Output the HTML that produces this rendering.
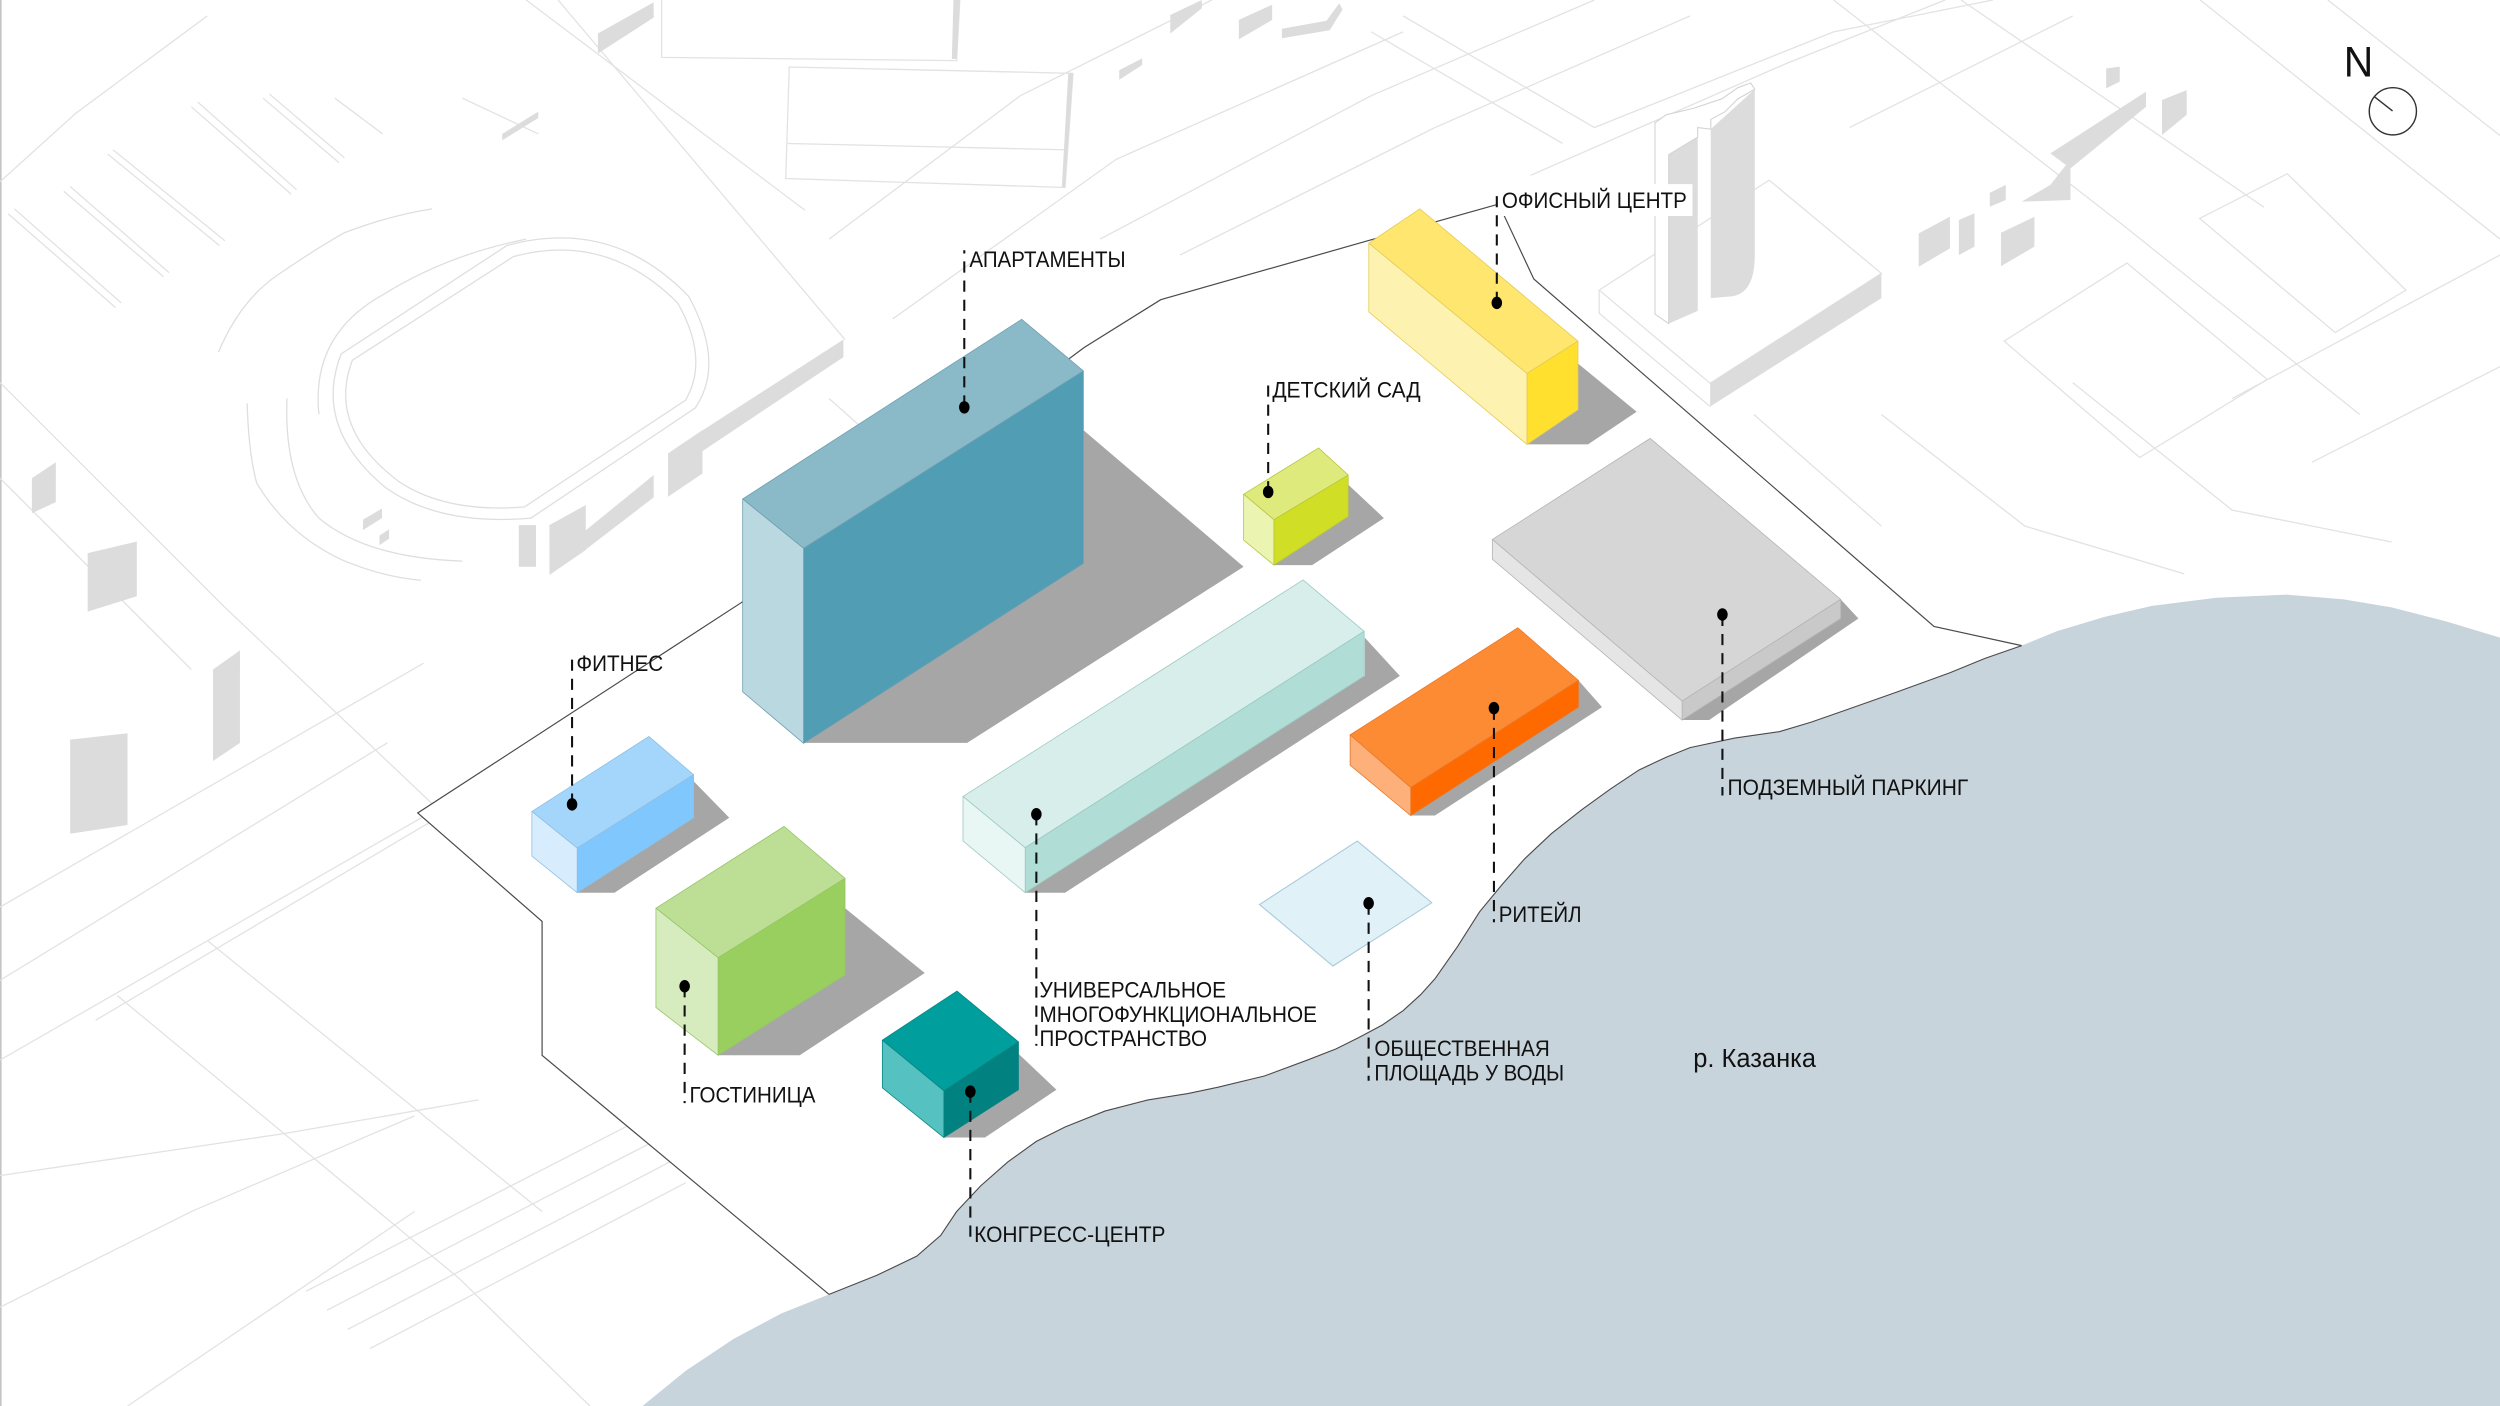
<!DOCTYPE html>
<html><head><meta charset="utf-8">
<style>
html,body{margin:0;padding:0;background:#fff;}
svg{display:block;}
text{font-family:"Liberation Sans",Arial,sans-serif;fill:#111;}
</style></head>
<body>
<svg width="2500" height="1406" viewBox="0 0 1568 882" preserveAspectRatio="none" xmlns="http://www.w3.org/2000/svg">
<rect x="0" y="0" width="1568" height="882" fill="#ffffff"/>
<line x1="0.5" y1="0" x2="0.5" y2="882" stroke="#c4c4c4" stroke-width="1"/>

<!-- faint background lines -->
<g fill="none" stroke="#e2e2e2" stroke-width="0.8">
  <path d="M5,134 L72.5,193 M9,131 L76,190"/>
  <path d="M40,120 L102.6,173.6 M44,117 L106,171"/>
  <path d="M67.5,96.6 L137.6,154 M71,94 L141,151"/>
  <path d="M120,67 L182.6,121.8 M124,64 L186,119"/>
  <path d="M165,61.6 L212.6,102 M169,59 L216,99"/>
  <path d="M210,61.6 L240,84"/>
  <path d="M290,61.6 L337.7,84"/>
  <path d="M350,0 L530,213"/>
  <path d="M330,0 L505,132"/>
  <path d="M0,114 L47.6,71 L130,10"/>
  <path d="M0,240 L140,380 L330,560"/>
  <path d="M0,300 L120,420"/>
  <path d="M0,569 L265.7,416"/>
  <path d="M0,615 L243,466"/>
  <path d="M0,665 L339,470"/>
  <path d="M60,640 L330,480"/>
  <path d="M73.6,624.6 L288,802 L370,882"/>
  <path d="M130,590 L340,760"/>
  <path d="M0,737.5 L179,711 L300,690"/>
  <path d="M192,810 L400,703 M205,822 L410,716 M218,834 L420,729 M232,846 L430,742"/>
  <path d="M0,820 L120,760 L260,700"/>
  <path d="M80,882 L260,760"/>
  <path d="M415,0 L415,36 L600,38 L602,0"/>
  <path d="M495,42 L673,46 L668,117.6 L492.8,112 Z M494,90 L670,94"/>
  <path d="M520,150 L640,60 L760,0"/>
  <path d="M560,200 L700,100 L880,20"/>
  <path d="M690,150 L860,60 L1000,0"/>
  <path d="M740,160 L900,80 L1060,10"/>
  <path d="M610,330 L520,250"/>
  <path d="M1003,182 L1109.6,113 L1180,171.5 L1072.6,240.4 Z M1003,182 L1003,196.5 L1072.6,255"/>
  <path d="M1257,214 L1334,165 L1422,238 L1342,287 Z"/>
  <path d="M1379.6,137 L1434.6,109 L1509,182 L1464.6,208.6 Z"/>
  <path d="M1150,0 L1330,140 L1480,260"/>
  <path d="M1230,0 L1420,130"/>
  <path d="M1380,0 L1568,150"/>
  <path d="M1460,0 L1568,85"/>
  <path d="M1300,240 L1400,320 L1500,340"/>
  <path d="M1180,260 L1270,330 L1370,360"/>
  <path d="M1100,260 L1180,330"/>
  <path d="M1400,250 L1568,160"/>
  <path d="M1450,290 L1568,230"/>
  <path d="M880,10 L1000,80 M860,20 L980,90"/>
  <path d="M1000,80 L1150,20 L1250,0"/>
  <path d="M960,110 L1120,40 L1220,0"/>
  <path d="M1160,80 L1300,10"/>
</g>

<!-- stadium -->
<g fill="none" stroke="#dedede" stroke-width="0.8">
  <path d="M221,226 L322,161 Q380,145 425,190 Q445,225 430,251 L329,318 Q280,322 250,302 Q205,268 221,226 Z"/>
  <path d="M214,222 L318,154 Q384,136 432,186 Q455,228 436,256 L333,325 Q276,330 242,306 Q196,268 214,222 Z"/>
  <path d="M137,221 Q150,190 172,174 Q195,158 216,146 Q245,135 271,131"/>
  <path d="M155,253 Q156,285 161,303 Q180,335 214,351 Q240,362 264,364"/>
  <path d="M180,250 Q178,300 200,325 Q230,350 290,352"/>
  <path d="M200,260 Q195,210 240,185 Q280,160 330,150"/>
</g>

<!-- gray background facades -->
<g fill="#dcdcdc">
  <polygon points="55,347 85.8,339.7 85.8,374 55,383.7"/>
  <polygon points="44,464 80,460 80,517.5 44,523"/>
  <polygon points="133.6,420 150.5,408 150.5,466 133.6,477.4"/>
  <polygon points="20,300 35,290 35,315 20,322"/>
  <polygon points="325.4,329.4 336.2,329.4 336.2,355.5 325.4,355.5"/>
  <polygon points="344.6,329.4 367.4,316.8 367.4,345 344.6,360.7"/>
  <polygon points="367,333 410,298 410,312 367,345"/>
  <polygon points="419,284.4 440.6,269.8 440.6,297 419,311.6"/>
  <polygon points="440.6,270 529,213 529,224 440.6,283"/>
  <polygon points="227.7,326 239.6,319 239.6,325 227.7,332.5"/>
  <polygon points="238,336 244,332 244,338 238,342"/>
  <polygon points="375,21 410,1.4 410,11 375,33.6"/>
  <polygon points="315,84 337.6,70 337.6,74 315,88"/>
  <polygon points="734,9.4 753.8,0 753.8,5.2 734,21"/>
  <polygon points="777,12.5 797.9,3 797.9,12.5 777,24.7"/>
  <polygon points="804,18 832,13 840,2 842,6 834,19 804,24"/>
  <polygon points="702,44 716.4,36.6 716.4,40.8 702,50"/>
  <polygon points="598,0 602,0 600,37 597,37"/>
  <polygon points="670,46 673,46 668,117.6 666,117"/>
  <!-- tower -->
  <polygon points="1046.6,97 1064.8,86 1064.8,195 1046.6,203"/>
  <path d="M1073,81 L1100.6,56 L1100.6,160 Q1100.6,185 1085,186 L1073,187 Z"/>
  <polygon points="1072.6,240.4 1180,171.5 1180,187 1072.6,255"/>
  <polygon points="1286,96.2 1346,57.5 1346,67 1298.6,105.6"/>
  <polygon points="1298.6,100 1298.6,125.5 1268,126.5 1286,116"/>
  <polygon points="1255,146 1276,136 1276,154.7 1255,167"/>
  <polygon points="1228.6,138 1238.4,133.8 1238.4,154.7 1228.6,160"/>
  <polygon points="1203.4,146.4 1223,136 1223,155.8 1203.4,167.3"/>
  <polygon points="1248,121 1258,116 1258,125.5 1248,129.7"/>
  <polygon points="1356,62.7 1371.5,56.5 1371.5,72 1356,84.7"/>
  <polygon points="1321,43 1329.5,41.8 1329.5,51.2 1321,55.4"/>
</g>
<path d="M1038,77 L1038,197 L1046.6,203 L1046.6,97 L1064.8,86 L1064.8,80 L1073,81 L1073,75 L1082,70 L1090,62 L1100.6,56 L1098,52 L1090,55 L1080,62 L1062,68 L1045,72 Z" fill="#fff" stroke="#d4d4d4" stroke-width="0.7"/>

<!-- site white area -->
<polygon points="262,510 340,578 340,662 520,812 550,800 575,788 590,775 600,760 615,744 632,729 650,716 668,707 693,697 720,690 745,686 764,682 793,675 820,665 838,658 852,651 867,643 880,634 891,624 900,614 914,594 928,572 942,555 956,539 973,523 992,508 1010,495 1028,483 1045,475 1060,469 1088,463 1116,459 1136,453 1156,446 1190,434 1223,422 1245,413 1268,405 1213,393 962,175 940,128 858,151 728,188 680,218 465,378" fill="#ffffff"/>

<!-- water -->
<polygon points="403,882 430,860 460,840 490,824 520,812 550,800 575,788 590,775 600,760 615,744 632,729 650,716 668,707 693,697 720,690 745,686 764,682 793,675 820,665 838,658 852,651 867,643 880,634 891,624 900,614 914,594 928,572 942,555 956,539 973,523 992,508 1010,495 1028,483 1045,475 1060,469 1088,463 1116,459 1136,453 1156,446 1190,434 1223,422 1245,413 1268,405 1290,396 1320,387 1350,380 1390,375 1434,373 1470,376 1500,381 1535,390 1568,400 1568,882" fill="#c8d4dc"/>

<!-- boundary line -->
<polyline points="520,812 340,662 340,578 262,510 465,378 680,218 728,188 858,151 940,128 962,175 1213,393 1268,405" fill="none" stroke="#4a4a4a" stroke-width="0.75"/>
<polyline points="520,812 550,800 575,788 590,775 600,760 615,744 632,729 650,716 668,707 693,697 720,690 745,686 764,682 793,675 820,665 838,658 852,651 867,643 880,634 891,624 900,614 914,594 928,572 942,555 956,539 973,523 992,508 1010,495 1028,483 1045,475 1060,469 1088,463 1116,459 1136,453 1156,446 1190,434 1223,422 1245,413 1268,405" fill="none" stroke="#4a4a4a" stroke-width="0.7"/>

<!-- shadows -->
<g fill="#a6a6a6">
  <polygon points="504,466 606.6,466 780,355.5 679.5,269.8 679.5,353"/>
  <polygon points="799,354.5 823,354.5 868,325 845.6,304 845.6,324"/>
  <polygon points="957.7,278.8 996,278.8 1026.5,258.3 989.7,228 989.7,257"/>
  <polygon points="1055,451.7 1072,451.7 1165.6,388 1154.5,376 1154.5,388"/>
  <polygon points="884.8,511.6 900,511.6 1004.8,443.6 990,426.8 990,443.6"/>
  <polygon points="643,560 668,560 878,424 856,400 856,424"/>
  <polygon points="362,560 385.4,560 457.4,513 435,490 435,513"/>
  <polygon points="450.4,662 501.6,662 580,610.4 530,569.7 530,611.6"/>
  <polygon points="592,713.6 617.8,713.6 662.6,683.6 638.8,661 638.8,683.6"/>
</g>

<!-- public square -->
<polygon points="851.3,527.6 898,566.3 836,606 790,567.4" fill="#e1f1f8" stroke="#a9cbdb" stroke-width="0.7"/>

<!-- buildings -->
<g stroke-width="0.5" stroke-linejoin="round">
  <!-- apartments -->
  <g stroke="#6f9fb0">
    <polygon points="640.8,200.3 679.5,232.7 504,344 465.8,313" fill="#8ab9c8"/>
    <polygon points="504,344 679.5,232.7 679.5,353.4 504,466.3" fill="#519db4"/>
    <polygon points="465.8,313 504,344 504,466.3 465.8,434" fill="#bad8e0"/>
  </g>
  <!-- kindergarten -->
  <g stroke="#b8c640">
    <polygon points="827,281 845.6,298 799,326 780,310" fill="#dfea7c"/>
    <polygon points="799,326 845.6,298 845.6,324 799,354.5" fill="#d0de26"/>
    <polygon points="780,310 799,326 799,354.5 780,338.8" fill="#ecf4b2"/>
  </g>
  <!-- office -->
  <g stroke="#e4cc58">
    <polygon points="890.5,131 989.7,214 957.7,234.3 858.5,152.6" fill="#fee66f"/>
    <polygon points="957.7,234.3 989.7,214 989.7,257 957.7,278.8" fill="#ffe02f"/>
    <polygon points="858.5,152.6 957.7,234.3 957.7,278.8 858.5,195.7" fill="#fef2b1"/>
  </g>
  <!-- parking -->
  <g stroke="#b4b4b4">
    <polygon points="1035,275 1154.5,376 1055,439.8 936,338.4" fill="#d6d6d6"/>
    <polygon points="1055,439.8 1154.5,376 1154.5,388 1055,451.7" fill="#c9c9c9"/>
    <polygon points="936,338.4 1055,439.8 1055,451.7 936,350.8" fill="#e5e5e5"/>
  </g>
  <!-- retail -->
  <g stroke="#e8782a">
    <polygon points="952,393.8 990,426.8 884.8,494 846.8,461" fill="#fd8b34"/>
    <polygon points="884.8,494 990,426.8 990,443.6 884.8,511.6" fill="#ff6a00"/>
    <polygon points="846.8,461 884.8,494 884.8,511.6 846.8,480" fill="#feb07b"/>
  </g>
  <!-- mint multifunctional -->
  <g stroke="#9cc9c2">
    <polygon points="817.3,363.8 855.6,396 643,531.8 604,499.6" fill="#d7eeeb"/>
    <polygon points="643,531.8 855.6,396 855.6,424 643,560" fill="#b0ded7"/>
    <polygon points="604,499.6 643,531.8 643,560 604,527.5" fill="#e8f6f4"/>
  </g>
  <!-- fitness -->
  <g stroke="#8fbfe2">
    <polygon points="407,462 435,486 362,532 333.6,509" fill="#a4d5fb"/>
    <polygon points="362,532 435,486 435,513 362,560" fill="#7fc7fd"/>
    <polygon points="333.6,509 362,532 362,560 333.6,537" fill="#d7edfe"/>
  </g>
  <!-- hotel -->
  <g stroke="#98c46a">
    <polygon points="491.8,518.4 530,551 450.4,600.8 411.4,569.7" fill="#bddf95"/>
    <polygon points="450.4,600.8 530,551 530,611.6 450.4,662" fill="#98cf5f"/>
    <polygon points="411.4,569.7 450.4,600.8 450.4,662 411.4,632" fill="#d6ecbe"/>
  </g>
  <!-- congress -->
  <g stroke="#0a8583">
    <polygon points="600.2,621.7 638.8,653.6 592,684.3 553.4,652.5" fill="#009e9c"/>
    <polygon points="592,684.3 638.8,653.6 638.8,683.6 592,713.6" fill="#018280"/>
    <polygon points="553.4,652.5 592,684.3 592,713.6 553.4,682.4" fill="#55c1c0"/>
  </g>
</g>

<!-- office label background -->
<rect x="938.5" y="115.5" width="123" height="20" fill="#ffffff"/>

<!-- leaders -->
<g stroke="#111" stroke-width="1.3" stroke-dasharray="7 5" fill="none">
  <path d="M604.8,255 L604.8,157"/>
  <path d="M938.8,190 L938.8,118"/>
  <path d="M795.4,308.8 L795.4,237"/>
  <path d="M358.8,504.8 L358.8,410"/>
  <path d="M429.4,618.7 L429.4,692"/>
  <path d="M608.6,684.8 L608.6,779"/>
  <path d="M650,510.8 L650,656"/>
  <path d="M937,444.6 L937,578.5"/>
  <path d="M858.4,566.8 L858.4,678"/>
  <path d="M1080.3,385.7 L1080.3,499"/>
</g>
<g fill="#000">
  <ellipse cx="604.8" cy="255.5" rx="3.3" ry="3.9"/>
  <ellipse cx="938.8" cy="190" rx="3.3" ry="3.9"/>
  <ellipse cx="795.4" cy="308.6" rx="3.3" ry="3.9"/>
  <ellipse cx="358.8" cy="504.6" rx="3.3" ry="3.9"/>
  <ellipse cx="429.4" cy="618.7" rx="3.3" ry="3.9"/>
  <ellipse cx="608.6" cy="684.8" rx="3.3" ry="3.9"/>
  <ellipse cx="650" cy="510.8" rx="3.3" ry="3.9"/>
  <ellipse cx="937" cy="444.2" rx="3.3" ry="3.9"/>
  <ellipse cx="858.4" cy="566.6" rx="3.3" ry="3.9"/>
  <ellipse cx="1080.3" cy="385.5" rx="3.3" ry="3.9"/>
</g>

<!-- labels -->
<g font-size="14" lengthAdjust="spacingAndGlyphs">
  <text x="608" y="167.5" textLength="98" lengthAdjust="spacingAndGlyphs">АПАРТАМЕНТЫ</text>
  <text x="942" y="130.5" textLength="116" lengthAdjust="spacingAndGlyphs">ОФИСНЫЙ ЦЕНТР</text>
  <text x="798" y="249.5" textLength="93" lengthAdjust="spacingAndGlyphs">ДЕТСКИЙ САД</text>
  <text x="361.5" y="421" textLength="54.5" lengthAdjust="spacingAndGlyphs">ФИТНЕС</text>
  <text x="432.5" y="691.5" textLength="79" lengthAdjust="spacingAndGlyphs">ГОСТИНИЦА</text>
  <text x="611" y="779" textLength="120" lengthAdjust="spacingAndGlyphs">КОНГРЕСС-ЦЕНТР</text>
  <text x="652" y="625.8" textLength="117" lengthAdjust="spacingAndGlyphs">УНИВЕРСАЛЬНОЕ</text>
  <text x="652" y="641.2" textLength="174" lengthAdjust="spacingAndGlyphs">МНОГОФУНКЦИОНАЛЬНОЕ</text>
  <text x="652" y="656.2" textLength="105" lengthAdjust="spacingAndGlyphs">ПРОСТРАНСТВО</text>
  <text x="940" y="578.3" textLength="52" lengthAdjust="spacingAndGlyphs">РИТЕЙЛ</text>
  <text x="862" y="662.3" textLength="110" lengthAdjust="spacingAndGlyphs">ОБЩЕСТВЕННАЯ</text>
  <text x="862" y="677.8" textLength="119" lengthAdjust="spacingAndGlyphs">ПЛОЩАДЬ У ВОДЫ</text>
  <text x="1083.5" y="498.8" textLength="151" lengthAdjust="spacingAndGlyphs">ПОДЗЕМНЫЙ ПАРКИНГ</text>
</g>
<text x="1062" y="669.5" font-size="16" textLength="77" lengthAdjust="spacingAndGlyphs">р. Казанка</text>

<!-- north arrow -->
<text x="1470" y="48" font-size="27" textLength="18.5" lengthAdjust="spacingAndGlyphs">N</text>
<circle cx="1500.8" cy="69.8" r="14.8" fill="none" stroke="#333" stroke-width="0.9"/>
<line x1="1489" y1="60.5" x2="1500.6" y2="69.6" stroke="#333" stroke-width="0.9"/>
</svg>
</body></html>
